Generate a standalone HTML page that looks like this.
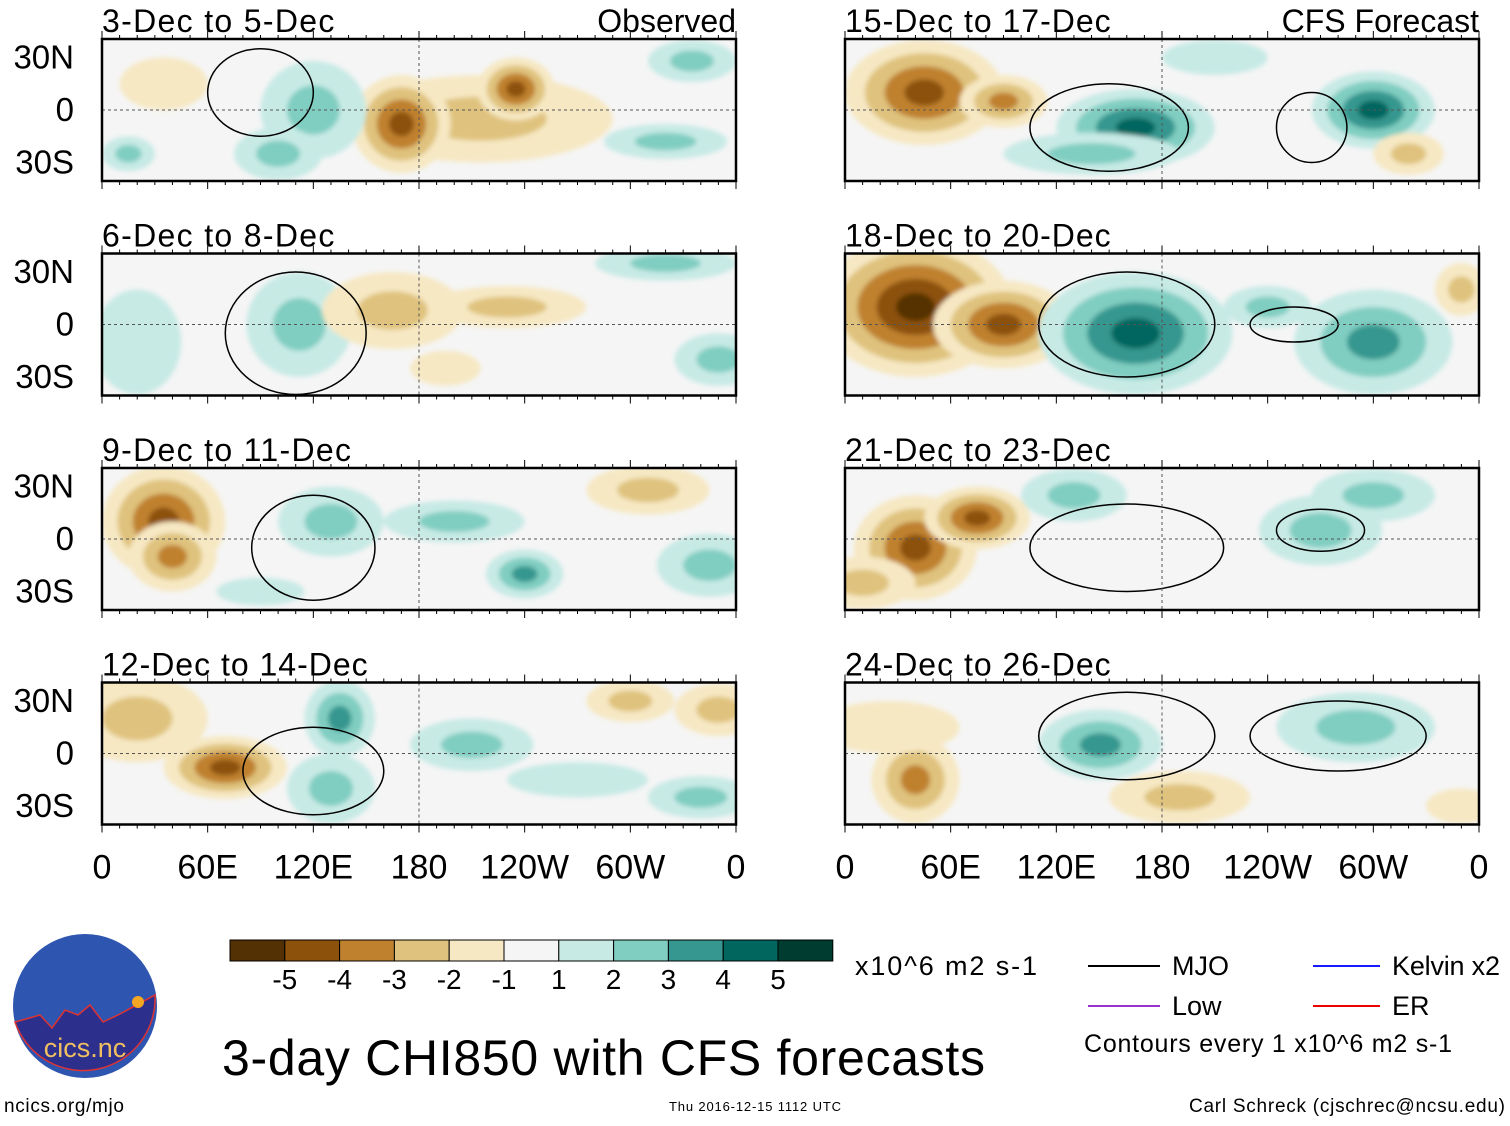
<!DOCTYPE html>
<html><head><meta charset="utf-8"><style>
body{margin:0;background:#fff;font-family:"Liberation Sans",sans-serif}
svg text{font-family:"Liberation Sans",sans-serif}
</style></head><body>
<svg id="c" width="1510" height="1121" viewBox="0 0 1510 1121" xmlns="http://www.w3.org/2000/svg">
<defs><filter id="bl"><feGaussianBlur stdDeviation="2.5"/></filter>
<clipPath id="cl"><rect x="0" y="0" width="634" height="142"/></clipPath></defs>
<g id="panels"></g>
<g id="cbar"></g>
<text x="855" y="975" font-size="27" textLength="182">x10^6 m2 s-1</text>
<g font-size="27">
<line x1="1088" y1="966" x2="1160" y2="966" stroke="#000" stroke-width="2"/><text x="1172" y="975">MJO</text>
<line x1="1088" y1="1006" x2="1160" y2="1006" stroke="#9933cc" stroke-width="2"/><text x="1172" y="1015">Low</text>
<line x1="1313" y1="966" x2="1380" y2="966" stroke="#1a1aff" stroke-width="2"/><text x="1392" y="975" textLength="108">Kelvin x2</text>
<line x1="1313" y1="1006" x2="1380" y2="1006" stroke="#e00" stroke-width="2"/><text x="1392" y="1015">ER</text>
<text x="1084" y="1052" font-size="25" textLength="368">Contours every 1 x10^6 m2 s-1</text>
</g>
<text x="222" y="1075" font-size="50" textLength="763">3-day CHI850 with CFS forecasts</text>
<text x="4" y="1112" font-size="19" textLength="120">ncics.org/mjo</text>
<text x="669" y="1111" font-size="13" textLength="172">Thu 2016-12-15 1112 UTC</text>
<text x="1505" y="1112" font-size="19" text-anchor="end" textLength="316">Carl Schreck (cjschrec@ncsu.edu)</text>
<g>
<circle cx="85" cy="1006" r="72" fill="#2e55b0"/>
<path d="M15,1022 L40,1015 L52,1028 L65,1010 L78,1015 L90,1005 L103,1022 L118,1015 L155,995 A72,72 0 0 1 15,1022Z" fill="#2d2f8c" stroke="#d33" stroke-width="1.5"/>
<circle cx="138" cy="1002" r="6" fill="#f5a623"/>
<text x="85" y="1057" font-size="27" fill="#f0c060" text-anchor="middle">cics.nc</text>
</g>
</svg>
<script>
const levels=[-5,-4,-3,-2,-1,1,2,3,4,5];
const colors=["#543005","#8c510a","#bf812d","#dfc27d","#f6e8c3","#f5f5f5","#c7eae5","#80cdc1","#35978f","#01665e","#003c30"];
const titles=["3-Dec to 5-Dec","6-Dec to 8-Dec","9-Dec to 11-Dec","12-Dec to 14-Dec","15-Dec to 17-Dec","18-Dec to 20-Dec","21-Dec to 23-Dec","24-Dec to 26-Dec"];
const latTicks=["30N","0","30S"];
const lonTicks=["0","60E","120E","180","120W","60W","0"];
// anomaly blobs: [lon, lat, lon-radius, lat-radius, value]
const blobs=[
 [[215,-5,75,25,-2],[170,-8,28,28,-4],[235,12,22,18,-4],[120,0,30,28,2],[100,-25,25,15,2],[320,-18,35,10,2],[335,28,25,12,2],[35,15,25,15,-1],[15,-25,15,10,2]],
 [[112,0,30,30,2],[165,8,40,22,-2],[350,-20,25,15,2],[230,10,45,12,-2],[20,-10,25,30,1],[320,35,40,10,2],[195,-25,20,10,-1]],
 [[35,10,35,32,-4],[40,-10,25,20,-3],[130,10,30,20,2],[240,-20,22,14,3],[310,28,35,14,-2],[200,10,40,12,2],[345,-15,30,18,2],[90,-30,25,8,1]],
 [[70,-8,35,18,-4],[20,20,40,25,-2],[135,20,20,22,3],[130,-20,25,20,2],[210,5,35,15,2],[340,-25,30,12,2],[350,25,25,15,-2],[270,-15,40,10,1],[300,30,25,12,-2]],
 [[45,10,45,30,-4],[90,5,25,15,-3],[165,-10,45,22,4],[300,0,35,22,4],[140,-25,50,12,2],[320,-25,20,12,-2],[210,30,30,10,1]],
 [[40,10,55,40,-5],[90,0,40,25,-4],[165,-5,55,35,4],[300,-10,45,30,3],[240,10,25,12,2],[350,20,15,15,-2]],
 [[40,-5,35,30,-4],[75,12,30,18,-4],[130,25,30,15,2],[270,5,35,20,2],[300,25,35,15,2],[10,-25,30,15,-2]],
 [[145,5,35,20,3],[190,-25,40,15,-2],[290,15,45,20,2],[40,-15,25,25,-3],[25,15,40,15,-1],[350,-30,20,10,-1]]
];
// MJO contours: [lon, lat, lon-radius, lat-radius]
const mjo=[[[90,10,30,25]],[[110,-5,40,35]],[[120,-5,35,30]],[[120,-10,40,25]],[[150,-10,45,25],[265,-10,20,20]],[[160,0,50,30],[255,0,25,10]],[[160,-5,55,25],[270,5,25,12]],[[160,10,50,25],[280,10,50,20]]];
function col(v){let i=0;while(i<levels.length&&v>levels[i])i++;return colors[i];}
const ns="http://www.w3.org/2000/svg";
function mk(t,a,p){const e=document.createElementNS(ns,t);for(const k in a)e.setAttribute(k,a[k]);p.appendChild(e);return e;}
const P=document.getElementById('panels');
const W=634,H=142;
const lonX=l=>l/360*W, latY=l=>71-l*1.75;
titles.forEach((t,i)=>{
 const x0=i<4?102:845,y0=39+(i%4)*214.5;
 const g=mk('g',{transform:`translate(${x0},${y0})`},P);
 
 
 mk('rect',{x:0,y:0,width:W,height:H,fill:'#f5f5f5'},g);
 const f=mk('g',{'clip-path':'url(#cl)',filter:'url(#bl)'},g);
 blobs[i].forEach(b=>{
  const n=Math.abs(b[4]),s=Math.sign(b[4]);
  for(let k=1;k<=n;k++){
   const sc=(n-k+1)/n;
   const e=mk('ellipse',{cx:lonX(b[0]),cy:latY(b[1]),rx:lonX(b[2])*sc,ry:b[3]*1.75*sc,fill:col(s*(k+0.5))},f);
   
   
  }
 });
 mjo[i].forEach(m=>{
  const e=mk('ellipse',{cx:lonX(m[0]),cy:latY(m[1]),rx:lonX(m[2]),ry:m[3]*1.75,fill:'none',stroke:'#000','stroke-width':1.5,'clip-path':'url(#cl)'},g);
  
  
 });
 mk('line',{x1:0,y1:71,x2:W,y2:71,stroke:'#555','stroke-dasharray':'3,3'},g);
 mk('line',{x1:W/2,y1:0,x2:W/2,y2:H,stroke:'#555','stroke-dasharray':'3,3'},g);
 mk('rect',{x:0,y:0,width:W,height:H,fill:'none',stroke:'#000','stroke-width':2.5},g);
 for(let k=0;k<=36;k++){const x=k*W/36,l=k%6==0?8:4;mk('line',{x1:x,y1:0,x2:x,y2:-l,stroke:'#000'},g);mk('line',{x1:x,y1:H,x2:x,y2:H+l,stroke:'#000'},g);}
 const tt=mk('text',{x:0,y:-7,'font-size':32,textLength:t.length*16.6},g);tt.textContent=t;
 
 
 if(i==0||i==4){const r=mk('text',{x:W,y:-7,'font-size':32,'text-anchor':'end'},g);r.textContent=i==0?'Observed':'CFS Forecast';
  
  }
 if(i<4){latTicks.forEach((lt,j)=>{const e=mk('text',{x:-28,y:latY(30-30*j)+11,'font-size':33,'text-anchor':'end'},g);e.textContent=lt;
  
  });}
 if(i%4==3){lonTicks.forEach((lt,j)=>{const e=mk('text',{x:j*W/6,y:H+54,'font-size':34,'text-anchor':'middle'},g);e.textContent=lt;
  
  });}
});
const C=document.getElementById('cbar');
colors.forEach((c,i)=>{const r=mk('rect',{x:230+i*54.8,y:940,width:54.8,height:21,fill:c,stroke:'#000'},C);
 
 });
levels.forEach((v,i)=>{const e=mk('text',{x:230+(i+1)*54.8,y:989,'font-size':28,'text-anchor':'middle'},C);e.textContent=v;
 
 });
</script>
</body></html>
